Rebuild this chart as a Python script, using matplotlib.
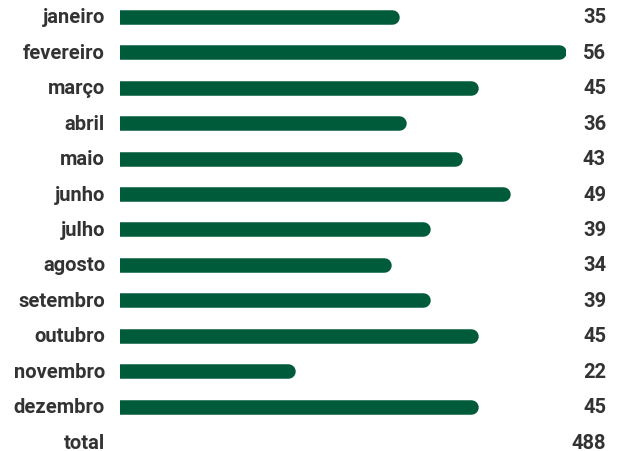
import matplotlib.pyplot as plt

meses = ['janeiro', 'fevereiro', 'março', 'abril', 'maio', 'junho', 'julho',
         'agosto', 'setembro', 'outubro', 'novembro', 'dezembro']
valores = [35, 56, 45, 36, 43, 49, 39, 34, 39, 45, 22, 45]
total = 488

verde = '#005b3b'
cinza = '#333333'

plt.rcParams['font.family'] = ['Roboto', 'DejaVu Sans']

fig = plt.figure(figsize=(6.2, 4.52), dpi=100)
ax = fig.add_axes([120 / 620, 0, 446 / 620, 1])
ax.set_xlim(0, 56)
ax.set_ylim(12 + 9 / 35.42, -18 / 35.42)
ax.axis('off')

espessura = 14.5  # px
raio = (espessura / 2) * 56 / 446  # raio da ponta arredondada em unidades de dados

# barras como linhas grossas com ponta redonda; a ponta esquerda fica cortada pela borda do eixo
for i, v in enumerate(valores):
    ax.plot([0, v - raio], [i, i], color=verde, lw=espessura * 0.72,
            solid_capstyle='round', clip_on=True)

rotulos = meses + ['total']
numeros = valores + [total]
for i, (r, n) in enumerate(zip(rotulos, numeros)):
    ax.text(-15 / 446 * 56, i, r, ha='right', va='center', fontsize=14.5,
            fontweight='bold', color=cinza)
    ax.text(56 + 40 / 446 * 56, i, str(n), ha='right', va='center', fontsize=14.5,
            fontweight='bold', color=cinza)

fig.savefig('out.png', dpi=100)
